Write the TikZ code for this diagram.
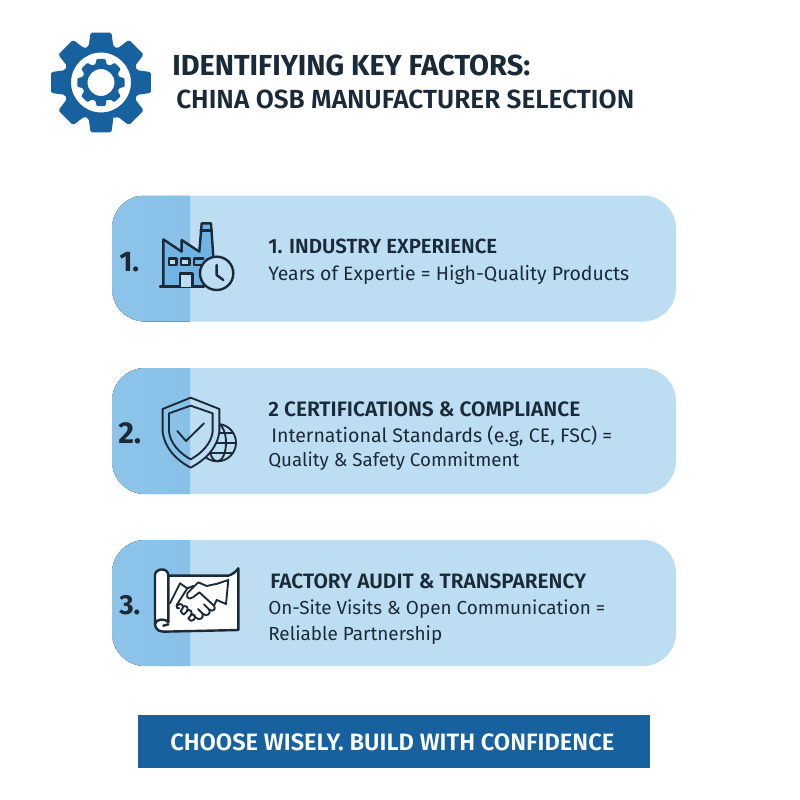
\documentclass[tikz,border=0pt]{standalone}
\usepackage{fontspec}
\usepackage{graphicx}
\setmainfont{Fira Sans}[BoldFont={Fira Sans SemiBold}]
\newfontfamily\heavy{Fira Sans}[UprightFont={* Bold}]
\definecolor{cardlight}{HTML}{BDDDF3}
\definecolor{carddark}{HTML}{88C1E8}
\definecolor{brand}{HTML}{17619F}
\definecolor{ink}{HTML}{1B2A38}
\definecolor{iconfill}{HTML}{6FB4E4}
\newcommand{\fitw}[2]{\resizebox{#1\dimexpr0.75pt\relax}{!}{#2}}
\newcommand{\gearring}[5]{%
  (#1,#2) ++(90-#5:#4)
  \foreach \i in {0,...,7}{
    -- ({#1+#3*cos(90+45*\i-0.62*#5)},{#2+#3*sin(90+45*\i-0.62*#5)})
    -- ({#1+#3*cos(90+45*\i+0.62*#5)},{#2+#3*sin(90+45*\i+0.62*#5)})
    -- ({#1+#4*cos(90+45*\i+#5)},{#2+#4*sin(90+45*\i+#5)})
    -- ({#1+#4*cos(90+45*\i+22.5)},{#2+#4*sin(90+45*\i+22.5)})
    -- ({#1+#4*cos(90+45*\i+45-#5)},{#2+#4*sin(90+45*\i+45-#5)})
  } -- cycle
}
\tikzset{
  cardbox/.style={fill=cardlight, rounded corners=33*0.75pt},
  txt/.style={anchor=west, inner sep=0pt, text=ink},
  icon/.style={draw=ink, line width=1.8pt, line join=round, line cap=round},
  thin icon/.style={draw=ink, line width=1.4pt, line join=round, line cap=round}
}
\begin{document}
\begin{tikzpicture}[x=0.75pt,y=-0.75pt]
\useasboundingbox (0,0) rectangle (800,800);
\fill[white] (0,0) rectangle (800,800);
% gear
\fill[brand,even odd rule,rounded corners=1.2pt] \gearring{101}{82.5}{51}{38}{19}
   (101,82.5) circle[radius=30];
\fill[brand,even odd rule,rounded corners=0.8pt] \gearring{101}{82.5}{24}{19}{17}
   (101,82.5) circle[radius=13.5];
% title
\node[txt] (title1) at (172,65) {\fitw{358}{\fontsize{21}{24}\heavy IDENTIFIYING KEY FACTORS:}};
\node[txt] (title2) at (176,99) {\fitw{458}{\fontsize{19}{24}\bfseries CHINA OSB MANUFACTURER SELECTION}};
% cards
\foreach \t/\b in {195.5/321.5,368/494,540/666}{
  \fill[cardbox] (112,\t) rectangle (676,\b);
  \begin{scope}
    \clip[rounded corners=33*0.75pt] (112,\t) rectangle (676,\b);
    \fill[left color=carddark!96!white, right color=carddark] (112,\t) rectangle (190,\b);
  \end{scope}
}
% numbers
\node[txt] (n1) at (119,262) {\fitw{20}{\fontsize{20}{24}\heavy 1.}};
\node[txt] (n2) at (118,433) {\fitw{23}{\fontsize{20}{24}\heavy 2.}};
\node[txt] (n3) at (119,605) {\fitw{21}{\fontsize{20}{24}\heavy 3.}};
% card text
\node[txt] (h1) at (268,246) {\fitw{229}{\fontsize{14}{17}\bfseries 1. INDUSTRY EXPERIENCE}};
\node[txt] (b1) at (268,274.5) {\fitw{361}{\fontsize{14}{17}\selectfont Years of Expertie = High-Quality Products}};
\node[txt] (h2) at (268,409) {\fitw{312}{\fontsize{14}{17}\bfseries 2 CERTIFICATIONS \& COMPLIANCE}};
\node[txt] (b2) at (271,436.5) {\fitw{341}{\fontsize{14}{17}\selectfont International Standards (e.g, CE, FSC) =}};
\node[txt] (c2) at (268,461.5) {\fitw{251}{\fontsize{14}{17}\selectfont Quality \& Safety Commitment}};
\node[txt] (h3) at (270,581) {\fitw{316}{\fontsize{14}{17}\bfseries FACTORY AUDIT \& TRANSPARENCY}};
\node[txt] (b3) at (268,609.5) {\fitw{337}{\fontsize{14}{17}\selectfont On-Site Visits \& Open Communication =}};
\node[txt] (c3) at (268,635.5) {\fitw{174}{\fontsize{14}{17}\selectfont Reliable Partnership}};
% banner
\fill[brand] (138,715) rectangle (650,768);
\node[txt,text=white] (banner) at (170,742) {\fitw{444}{\fontsize{16}{20}\bfseries CHOOSE WISELY. BUILD WITH CONFIDENCE}};
% factory icon
\begin{scope}[shift={(100,190)},x=0.25pt,y=-0.25pt]
  \path[icon,fill=iconfill] (190,290) -- (190,148) -- (245,185) -- (245,150) -- (298,185)
     -- (305,100) -- (333,100) -- (340,200) -- (310,290) -- cycle;
  \draw[icon] (302,122) -- (335,122);
  \draw[icon] (180,290) -- (312,290);
  \path[icon,fill=cardlight] (207,205) rectangle (230,225);
  \path[icon,fill=cardlight] (243,205) rectangle (268,225);
  \path[icon] (310,205) -- (282,205) -- (282,225) -- (303,225);
  \path[icon,fill=cardlight] (240,290) -- (240,250) -- (278,250) -- (278,290);
  \path[icon,fill=cardlight] (350,250) circle[radius=50];
  \draw[icon] (350,225) -- (350,255) -- (370,270);
\end{scope}
% shield icon
\begin{scope}[shift={(100,360)},x=0.25pt,y=-0.25pt]
  \begin{scope}
    \clip (270,170) rectangle (420,320);
    \draw[thin icon] (352,248) circle[radius=56];
    \draw[thin icon] (352,248) ellipse[x radius=26,y radius=56];
    \draw[thin icon] (296,248) -- (408,248);
    \draw[thin icon] (305,218) -- (399,218);
    \draw[thin icon] (305,278) -- (399,278);
  \end{scope}
  \fill[cardlight] (272,113) -- (358,147) -- (358,215) .. controls (352,265) and (315,300) .. (272,323) -- cycle;
  \path[thin icon] (272,113) -- (358,147) -- (358,215) .. controls (352,265) and (315,300) .. (272,323)
     .. controls (229,300) and (194,265) .. (188,215) -- (188,147) -- cycle;
  \path[thin icon] (272,137) -- (338,160) -- (338,215) .. controls (334,250) and (305,280) .. (272,298)
     .. controls (239,280) and (211,250) .. (207,215) -- (207,160) -- cycle;
  \draw[thin icon] (232,213) -- (258,243) -- (312,190);
\end{scope}
% handshake icon
\begin{scope}[shift={(100,535)},x=0.25pt,y=-0.25pt]
  \path[icon,fill=white] (205,122) -- (385,122) .. controls (398,118) and (408,110) .. (415,100) -- (415,285)
      -- (190,290) .. controls (170,290) and (165,275) .. (165,265) -- (165,120)
      .. controls (165,100) and (205,95) .. (205,122) -- (205,262)
      .. controls (200,250) and (165,250) .. (165,268);
  \draw[icon] (190,272) -- (205,268);
  % cuffs
  \path[thin icon] (210,205) -- (240,145) -- (262,160) -- (230,210);
  \path[thin icon] (352,146) -- (385,135) -- (378,207) -- (350,195);
  % right hand
  \draw[thin icon] (352,146) -- (320,153) -- (295,142) -- (262,175) .. controls (258,190) and (268,195) .. (280,186)
     -- (298,172) -- (342,212);
  \draw[thin icon] (342,212) .. controls (350,222) and (338,232) .. (328,224) -- (312,208);
  \draw[thin icon] (328,224) .. controls (334,238) and (318,246) .. (308,236) -- (294,222);
  \draw[thin icon] (308,236) .. controls (312,250) and (298,258) .. (288,248) -- (278,238);
  \draw[thin icon] (350,195) -- (342,212);
  % left hand
  \draw[thin icon] (262,160) -- (280,153);
  \draw[thin icon] (230,210) .. controls (226,216) and (232,222) .. (238,220);
  \draw[thin icon] (232,212) .. controls (240,202) and (252,208) .. (248,220) -- (242,228);
  \draw[thin icon] (248,216) .. controls (258,208) and (268,218) .. (260,230) -- (252,238);
  \draw[thin icon] (260,228) .. controls (270,220) and (280,230) .. (272,242) -- (265,250);
  \draw[thin icon] (272,240) .. controls (282,234) and (290,245) .. (282,254) .. controls (278,260) and (270,258) .. (265,250);
  \draw[thin icon] (242,228) .. controls (246,236) and (250,238) .. (252,238);
\end{scope}
\end{tikzpicture}
\end{document}
